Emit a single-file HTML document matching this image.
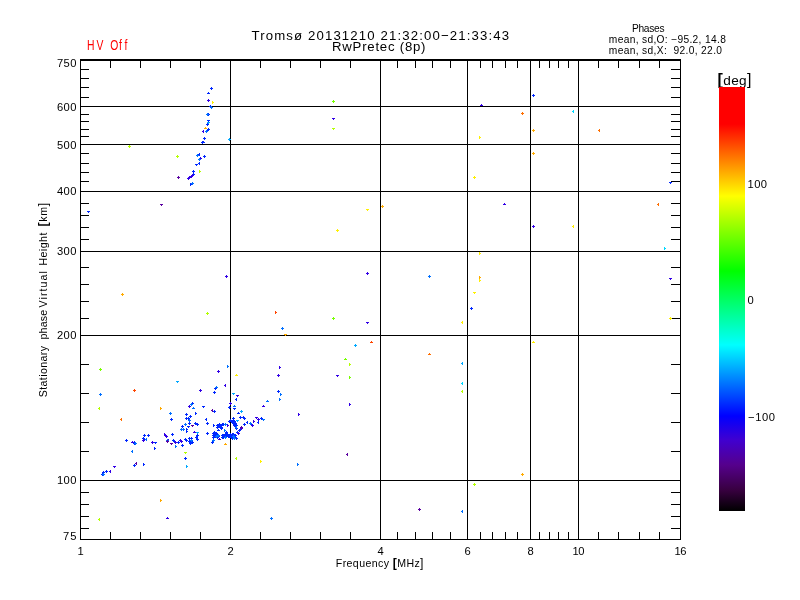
<!DOCTYPE html>
<html lang="en"><head><meta charset="utf-8"><title>Tromsø 20131210 21:32:00-21:33:43 RwPretec (8p)</title>
<style>html,body{margin:0;padding:0;background:#fff;}body{width:800px;height:600px;overflow:hidden;}svg{display:block;will-change:transform;filter:opacity(1);}text{font-family:"Liberation Sans",sans-serif;fill:#000;}.ln{fill:#000;shape-rendering:crispEdges;}</style>
</head><body>
<svg width="800" height="600" viewBox="0 0 800 600">
<rect x="0" y="0" width="800" height="600" fill="#fff"/>
<defs><linearGradient id="cb" x1="0" y1="0" x2="0" y2="1">
<stop offset="0.0000" stop-color="#ff0000"/>
<stop offset="0.0873" stop-color="#ff0000"/>
<stop offset="0.1722" stop-color="#ff8000"/>
<stop offset="0.2571" stop-color="#ffff00"/>
<stop offset="0.3443" stop-color="#80ff00"/>
<stop offset="0.4340" stop-color="#00ff00"/>
<stop offset="0.5212" stop-color="#00ff80"/>
<stop offset="0.6085" stop-color="#00ffff"/>
<stop offset="0.6910" stop-color="#0080ff"/>
<stop offset="0.7759" stop-color="#0000ff"/>
<stop offset="0.8325" stop-color="#4000d0"/>
<stop offset="0.8915" stop-color="#55008c"/>
<stop offset="0.9505" stop-color="#380040"/>
<stop offset="1.0000" stop-color="#000000"/>
</linearGradient></defs>
<g class="ln">
<rect x="80" y="59" width="1" height="481"/>
<rect x="230" y="59" width="1" height="481"/>
<rect x="380" y="59" width="1" height="481"/>
<rect x="467" y="59" width="1" height="481"/>
<rect x="530" y="59" width="1" height="481"/>
<rect x="578" y="59" width="1" height="481"/>
<rect x="680" y="59" width="1" height="481"/>
<rect x="80" y="59" width="601" height="1"/>
<rect x="80" y="106" width="601" height="1"/>
<rect x="80" y="144" width="601" height="1"/>
<rect x="80" y="191" width="601" height="1"/>
<rect x="80" y="251" width="601" height="1"/>
<rect x="80" y="335" width="601" height="1"/>
<rect x="80" y="480" width="601" height="1"/>
<rect x="80" y="539" width="601" height="1"/>
<rect x="80" y="59" width="601" height="2"/>
<rect x="110" y="59" width="1" height="9"/>
<rect x="110" y="532" width="1" height="8"/>
<rect x="140" y="59" width="1" height="9"/>
<rect x="140" y="532" width="1" height="8"/>
<rect x="170" y="59" width="1" height="9"/>
<rect x="170" y="532" width="1" height="8"/>
<rect x="200" y="59" width="1" height="9"/>
<rect x="200" y="532" width="1" height="8"/>
<rect x="260" y="59" width="1" height="9"/>
<rect x="260" y="532" width="1" height="8"/>
<rect x="290" y="59" width="1" height="9"/>
<rect x="290" y="532" width="1" height="8"/>
<rect x="320" y="59" width="1" height="9"/>
<rect x="320" y="532" width="1" height="8"/>
<rect x="350" y="59" width="1" height="9"/>
<rect x="350" y="532" width="1" height="8"/>
<rect x="397" y="59" width="1" height="9"/>
<rect x="397" y="532" width="1" height="8"/>
<rect x="415" y="59" width="1" height="9"/>
<rect x="415" y="532" width="1" height="8"/>
<rect x="432" y="59" width="1" height="9"/>
<rect x="432" y="532" width="1" height="8"/>
<rect x="450" y="59" width="1" height="9"/>
<rect x="450" y="532" width="1" height="8"/>
<rect x="480" y="59" width="1" height="9"/>
<rect x="480" y="532" width="1" height="8"/>
<rect x="492" y="59" width="1" height="9"/>
<rect x="492" y="532" width="1" height="8"/>
<rect x="505" y="59" width="1" height="9"/>
<rect x="505" y="532" width="1" height="8"/>
<rect x="517" y="59" width="1" height="9"/>
<rect x="517" y="532" width="1" height="8"/>
<rect x="539" y="59" width="1" height="9"/>
<rect x="539" y="532" width="1" height="8"/>
<rect x="549" y="59" width="1" height="9"/>
<rect x="549" y="532" width="1" height="8"/>
<rect x="558" y="59" width="1" height="9"/>
<rect x="558" y="532" width="1" height="8"/>
<rect x="568" y="59" width="1" height="9"/>
<rect x="568" y="532" width="1" height="8"/>
<rect x="598" y="59" width="1" height="9"/>
<rect x="598" y="532" width="1" height="8"/>
<rect x="618" y="59" width="1" height="9"/>
<rect x="618" y="532" width="1" height="8"/>
<rect x="639" y="59" width="1" height="9"/>
<rect x="639" y="532" width="1" height="8"/>
<rect x="659" y="59" width="1" height="9"/>
<rect x="659" y="532" width="1" height="8"/>
<rect x="80" y="69" width="9" height="1"/>
<rect x="671" y="69" width="10" height="1"/>
<rect x="80" y="78" width="9" height="1"/>
<rect x="671" y="78" width="10" height="1"/>
<rect x="80" y="87" width="9" height="1"/>
<rect x="671" y="87" width="10" height="1"/>
<rect x="80" y="97" width="9" height="1"/>
<rect x="671" y="97" width="10" height="1"/>
<rect x="80" y="114" width="9" height="1"/>
<rect x="671" y="114" width="10" height="1"/>
<rect x="80" y="121" width="9" height="1"/>
<rect x="671" y="121" width="10" height="1"/>
<rect x="80" y="129" width="9" height="1"/>
<rect x="671" y="129" width="10" height="1"/>
<rect x="80" y="136" width="9" height="1"/>
<rect x="671" y="136" width="10" height="1"/>
<rect x="80" y="153" width="9" height="1"/>
<rect x="671" y="153" width="10" height="1"/>
<rect x="80" y="163" width="9" height="1"/>
<rect x="671" y="163" width="10" height="1"/>
<rect x="80" y="172" width="9" height="1"/>
<rect x="671" y="172" width="10" height="1"/>
<rect x="80" y="181" width="9" height="1"/>
<rect x="671" y="181" width="10" height="1"/>
<rect x="80" y="203" width="9" height="1"/>
<rect x="671" y="203" width="10" height="1"/>
<rect x="80" y="215" width="9" height="1"/>
<rect x="671" y="215" width="10" height="1"/>
<rect x="80" y="227" width="9" height="1"/>
<rect x="671" y="227" width="10" height="1"/>
<rect x="80" y="239" width="9" height="1"/>
<rect x="671" y="239" width="10" height="1"/>
<rect x="80" y="267" width="9" height="1"/>
<rect x="671" y="267" width="10" height="1"/>
<rect x="80" y="284" width="9" height="1"/>
<rect x="671" y="284" width="10" height="1"/>
<rect x="80" y="301" width="9" height="1"/>
<rect x="671" y="301" width="10" height="1"/>
<rect x="80" y="318" width="9" height="1"/>
<rect x="671" y="318" width="10" height="1"/>
<rect x="80" y="364" width="9" height="1"/>
<rect x="671" y="364" width="10" height="1"/>
<rect x="80" y="393" width="9" height="1"/>
<rect x="671" y="393" width="10" height="1"/>
<rect x="80" y="422" width="9" height="1"/>
<rect x="671" y="422" width="10" height="1"/>
<rect x="80" y="451" width="9" height="1"/>
<rect x="671" y="451" width="10" height="1"/>
<rect x="80" y="492" width="9" height="1"/>
<rect x="671" y="492" width="10" height="1"/>
<rect x="80" y="504" width="9" height="1"/>
<rect x="671" y="504" width="10" height="1"/>
<rect x="80" y="516" width="9" height="1"/>
<rect x="671" y="516" width="10" height="1"/>
<rect x="80" y="528" width="9" height="1"/>
<rect x="671" y="528" width="10" height="1"/>
</g>
<g shape-rendering="crispEdges">
<path fill="#0028ff" d="M210 88h3v1h-3zM211 87h1v3h-1zM207 93h3v1h-3zM208 92h1v1h-1zM209 106h3v1h-3zM210 105h1v3h-1zM207 114h3v1h-3zM208 113h1v3h-1zM207 120h3v1h-3zM208 121h1v1h-1zM206 124h3v1h-3zM207 123h1v3h-1zM207 129h3v1h-3zM208 128h1v3h-1zM206 130h3v1h-3zM207 129h1v3h-1zM203 138h3v1h-3zM204 137h1v3h-1zM201 142h3v1h-3zM202 141h1v3h-1zM202 142h3v1h-3zM203 141h1v1h-1zM199 153h1v3h-1zM198 154h1v1h-1zM203 156h3v1h-3zM204 155h1v3h-1zM199 162h1v3h-1zM198 163h1v1h-1zM195 164h3v1h-3zM196 165h1v1h-1zM192 171h3v1h-3zM193 170h1v3h-1zM192 174h3v1h-3zM193 173h1v3h-1zM190 183h1v3h-1zM191 184h1v1h-1zM532 95h3v1h-3zM533 94h1v3h-1zM87 211h3v1h-3zM88 212h1v1h-1zM669 182h3v1h-3zM670 183h1v1h-1zM170 419h3v1h-3zM171 418h1v3h-1zM277 391h3v1h-3zM278 390h1v3h-1zM470 308h3v1h-3zM471 307h1v3h-1zM184 458h3v1h-3zM185 457h1v3h-1zM214 388h3v1h-3zM215 387h1v3h-1zM213 392h3v1h-3zM214 391h1v3h-1zM236 398h1v3h-1zM235 399h1v1h-1zM191 403h3v1h-3zM192 402h1v3h-1zM202 406h3v1h-3zM203 407h1v1h-1zM228 407h3v1h-3zM229 406h1v3h-1zM233 408h3v1h-3zM234 409h1v1h-1zM213 411h3v1h-3zM214 410h1v3h-1zM237 413h3v1h-3zM238 412h1v1h-1zM195 412h1v3h-1zM196 413h1v1h-1zM185 414h3v1h-3zM186 413h1v3h-1zM189 416h3v1h-3zM190 415h1v3h-1zM185 418h3v1h-3zM186 417h1v3h-1zM187 418h3v1h-3zM188 417h1v3h-1zM188 423h3v1h-3zM189 422h1v3h-1zM187 426h3v1h-3zM188 427h1v1h-1zM194 423h3v1h-3zM195 422h1v3h-1zM196 424h3v1h-3zM197 423h1v3h-1zM181 426h3v1h-3zM182 425h1v3h-1zM186 428h1v3h-1zM187 429h1v1h-1zM186 430h1v3h-1zM187 431h1v1h-1zM196 435h3v1h-3zM197 434h1v3h-1zM196 439h3v1h-3zM197 438h1v3h-1zM195 437h3v1h-3zM196 436h1v3h-1zM171 434h3v1h-3zM172 433h1v3h-1zM172 440h3v1h-3zM173 439h1v3h-1zM173 441h3v1h-3zM174 440h1v3h-1zM177 442h3v1h-3zM178 441h1v3h-1zM181 445h3v1h-3zM182 444h1v3h-1zM184 439h3v1h-3zM185 438h1v3h-1zM185 440h3v1h-3zM186 439h1v3h-1zM188 438h3v1h-3zM189 437h1v3h-1zM190 438h3v1h-3zM191 437h1v3h-1zM191 442h3v1h-3zM192 441h1v3h-1zM189 443h3v1h-3zM190 442h1v3h-1zM188 441h3v1h-3zM189 440h1v3h-1zM143 435h3v1h-3zM144 434h1v3h-1zM147 435h3v1h-3zM148 434h1v3h-1zM125 440h3v1h-3zM126 439h1v3h-1zM142 438h3v1h-3zM143 437h1v3h-1zM143 439h3v1h-3zM144 438h1v3h-1zM133 442h3v1h-3zM134 441h1v3h-1zM133 443h3v1h-3zM134 442h1v3h-1zM154 442h3v1h-3zM155 443h1v1h-1zM154 447h1v3h-1zM155 448h1v1h-1zM133 465h3v1h-3zM134 464h1v3h-1zM143 463h1v3h-1zM144 464h1v1h-1zM105 471h3v1h-3zM106 470h1v3h-1zM102 472h3v1h-3zM103 471h1v3h-1zM101 474h3v1h-3zM102 473h1v3h-1zM206 418h1v3h-1zM205 419h1v1h-1zM206 423h3v1h-3zM207 422h1v3h-1zM213 424h1v3h-1zM214 425h1v1h-1zM206 433h3v1h-3zM207 432h1v3h-1zM211 442h3v1h-3zM212 441h1v3h-1zM217 425h3v1h-3zM218 424h1v3h-1zM219 425h3v1h-3zM220 424h1v3h-1zM220 425h3v1h-3zM221 424h1v3h-1zM220 427h3v1h-3zM221 426h1v3h-1zM222 424h3v1h-3zM223 423h1v3h-1zM216 427h3v1h-3zM217 426h1v3h-1zM217 430h3v1h-3zM218 429h1v1h-1zM213 432h3v1h-3zM214 431h1v3h-1zM225 432h3v1h-3zM226 431h1v3h-1zM212 435h3v1h-3zM213 434h1v3h-1zM214 434h3v1h-3zM215 433h1v3h-1zM216 434h3v1h-3zM217 433h1v3h-1zM214 436h3v1h-3zM215 435h1v3h-1zM212 437h3v1h-3zM213 436h1v3h-1zM222 435h3v1h-3zM223 434h1v3h-1zM224 434h3v1h-3zM225 433h1v3h-1zM225 435h3v1h-3zM226 434h1v3h-1zM222 437h3v1h-3zM223 436h1v3h-1zM239 417h3v1h-3zM240 416h1v3h-1zM242 417h3v1h-3zM243 416h1v3h-1zM243 418h3v1h-3zM244 419h1v1h-1zM260 418h3v1h-3zM261 417h1v3h-1zM258 421h1v3h-1zM257 422h1v1h-1zM247 421h1v3h-1zM246 422h1v1h-1zM243 424h3v1h-3zM244 423h1v3h-1zM250 424h3v1h-3zM251 423h1v3h-1zM229 420h3v1h-3zM230 419h1v3h-1zM232 420h3v1h-3zM233 419h1v3h-1zM231 422h3v1h-3zM232 421h1v3h-1zM230 421h3v1h-3zM231 420h1v3h-1zM233 423h3v1h-3zM234 422h1v3h-1zM234 425h3v1h-3zM235 424h1v3h-1zM239 429h3v1h-3zM240 428h1v3h-1zM238 430h3v1h-3zM239 429h1v3h-1zM236 432h3v1h-3zM237 431h1v3h-1zM225 433h3v1h-3zM226 432h1v3h-1zM224 434h3v1h-3zM225 433h1v3h-1zM226 435h3v1h-3zM227 434h1v3h-1zM230 435h3v1h-3zM231 434h1v3h-1zM229 436h3v1h-3zM230 435h1v3h-1zM231 434h3v1h-3zM232 433h1v3h-1zM233 436h3v1h-3zM234 435h1v3h-1zM234 437h3v1h-3zM235 436h1v3h-1zM228 436h3v1h-3zM229 435h1v3h-1zM216 425h3v1h-3zM217 424h1v3h-1zM218 426h3v1h-3zM219 425h1v3h-1zM221 424h3v1h-3zM222 423h1v3h-1zM220 428h3v1h-3zM221 427h1v3h-1zM219 427h3v1h-3zM220 426h1v3h-1zM218 424h3v1h-3zM219 423h1v3h-1zM212 433h3v1h-3zM213 432h1v3h-1zM213 436h3v1h-3zM214 435h1v3h-1zM216 437h3v1h-3zM217 436h1v3h-1zM217 436h3v1h-3zM218 435h1v3h-1zM215 433h3v1h-3zM216 432h1v3h-1zM221 435h3v1h-3zM222 434h1v3h-1zM223 436h3v1h-3zM224 435h1v3h-1zM226 434h3v1h-3zM227 433h1v3h-1zM227 436h3v1h-3zM228 435h1v3h-1zM221 437h3v1h-3zM222 436h1v3h-1zM230 437h3v1h-3zM231 436h1v3h-1zM231 438h3v1h-3zM232 437h1v3h-1zM235 438h3v1h-3zM236 437h1v3h-1zM232 434h3v1h-3zM233 433h1v3h-1zM234 435h3v1h-3zM235 434h1v3h-1zM229 434h3v1h-3zM230 433h1v3h-1zM228 421h3v1h-3zM229 420h1v3h-1zM232 418h3v1h-3zM233 417h1v3h-1zM233 421h3v1h-3zM234 420h1v3h-1zM232 423h3v1h-3zM233 422h1v3h-1zM234 423h3v1h-3zM235 422h1v3h-1zM235 425h3v1h-3zM236 424h1v3h-1zM233 425h3v1h-3zM234 424h1v3h-1zM235 428h3v1h-3zM236 427h1v3h-1z"/>
<path fill="#3200e6" d="M207 100h3v1h-3zM208 99h1v3h-1zM203 130h1v3h-1zM202 131h1v1h-1zM199 158h3v1h-3zM200 157h1v3h-1zM191 175h3v1h-3zM192 174h1v3h-1zM190 176h3v1h-3zM191 175h1v3h-1zM188 177h3v1h-3zM189 176h1v3h-1zM187 178h3v1h-3zM188 177h1v3h-1zM332 118h3v1h-3zM333 119h1v1h-1zM480 105h3v1h-3zM481 104h1v1h-1zM225 276h3v1h-3zM226 275h1v3h-1zM366 273h3v1h-3zM367 272h1v3h-1zM503 204h3v1h-3zM504 203h1v1h-1zM532 226h3v1h-3zM533 225h1v3h-1zM669 278h3v1h-3zM670 279h1v1h-1zM366 322h3v1h-3zM367 323h1v1h-1zM336 375h3v1h-3zM337 376h1v1h-1zM279 366h1v3h-1zM280 367h1v1h-1zM277 375h3v1h-3zM278 374h1v3h-1zM262 406h3v1h-3zM263 405h1v1h-1zM298 413h1v3h-1zM299 414h1v1h-1zM349 403h1v3h-1zM350 404h1v1h-1zM166 518h3v1h-3zM167 517h1v1h-1zM217 371h3v1h-3zM218 370h1v3h-1zM225 384h1v3h-1zM224 385h1v1h-1zM199 390h3v1h-3zM200 389h1v3h-1zM236 395h3v1h-3zM237 396h1v1h-1zM229 403h3v1h-3zM230 402h1v3h-1zM188 406h3v1h-3zM189 405h1v3h-1zM193 432h3v1h-3zM194 431h1v1h-1zM164 433h1v3h-1zM165 434h1v1h-1zM164 435h3v1h-3zM165 434h1v3h-1zM165 436h3v1h-3zM166 437h1v1h-1zM168 439h1v3h-1zM167 440h1v1h-1zM174 442h3v1h-3zM175 441h1v3h-1zM179 440h3v1h-3zM180 439h1v3h-1zM180 441h3v1h-3zM181 440h1v3h-1zM142 440h3v1h-3zM143 439h1v3h-1zM131 442h3v1h-3zM132 441h1v1h-1zM151 442h3v1h-3zM152 441h1v3h-1zM113 466h3v1h-3zM114 467h1v1h-1zM110 470h1v3h-1zM109 471h1v1h-1zM227 424h1v3h-1zM228 425h1v1h-1zM218 439h3v1h-3zM219 438h1v1h-1zM255 417h3v1h-3zM256 418h1v1h-1zM257 419h3v1h-3zM258 418h1v3h-1zM253 420h1v3h-1zM254 421h1v1h-1zM251 425h3v1h-3zM252 424h1v3h-1zM227 424h1v3h-1zM228 425h1v1h-1zM237 433h3v1h-3zM238 432h1v3h-1zM240 428h3v1h-3zM241 427h1v3h-1z"/>
<path fill="#fff000" d="M212 101h1v3h-1zM213 102h1v1h-1zM479 136h1v3h-1zM480 137h1v1h-1zM473 177h3v1h-3zM474 176h1v3h-1zM366 209h3v1h-3zM367 210h1v1h-1zM336 230h3v1h-3zM337 229h1v3h-1zM479 252h1v3h-1zM480 253h1v1h-1zM479 279h1v3h-1zM480 280h1v1h-1zM473 292h3v1h-3zM474 293h1v1h-1zM573 225h1v3h-1zM572 226h1v1h-1zM462 321h1v3h-1zM461 322h1v1h-1zM532 342h3v1h-3zM533 341h1v1h-1zM669 318h3v1h-3zM670 317h1v3h-1zM260 460h1v3h-1zM261 461h1v1h-1zM235 375h3v1h-3zM236 374h1v1h-1z"/>
<path fill="#0070ff" d="M210 107h3v1h-3zM211 106h1v3h-1zM206 114h3v1h-3zM207 113h1v3h-1zM205 131h3v1h-3zM206 130h1v3h-1zM196 155h3v1h-3zM197 154h1v3h-1zM198 159h3v1h-3zM199 158h1v3h-1zM191 183h3v1h-3zM192 182h1v3h-1zM428 276h3v1h-3zM429 275h1v3h-1zM99 394h3v1h-3zM100 393h1v3h-1zM169 413h3v1h-3zM170 412h1v3h-1zM281 328h3v1h-3zM282 327h1v3h-1zM280 393h1v3h-1zM281 394h1v1h-1zM279 398h1v3h-1zM280 399h1v1h-1zM266 401h3v1h-3zM267 400h1v1h-1zM297 463h1v3h-1zM298 464h1v1h-1zM270 518h3v1h-3zM271 517h1v3h-1zM462 510h1v3h-1zM461 511h1v1h-1zM227 365h1v3h-1zM228 366h1v1h-1zM215 387h3v1h-3zM216 386h1v1h-1zM190 404h3v1h-3zM191 403h1v3h-1zM233 406h3v1h-3zM234 405h1v1h-1zM192 408h3v1h-3zM193 407h1v1h-1zM188 420h3v1h-3zM189 419h1v3h-1zM184 424h3v1h-3zM185 423h1v3h-1zM180 429h3v1h-3zM181 428h1v3h-1zM182 429h3v1h-3zM183 428h1v3h-1zM166 440h3v1h-3zM167 439h1v3h-1zM175 445h1v3h-1zM176 446h1v1h-1zM190 440h3v1h-3zM191 439h1v3h-1zM146 438h1v3h-1zM145 439h1v1h-1zM134 443h3v1h-3zM135 442h1v3h-1zM132 450h1v3h-1zM131 451h1v1h-1zM102 474h3v1h-3zM103 473h1v3h-1zM212 440h3v1h-3zM213 439h1v3h-1zM224 424h3v1h-3zM225 423h1v3h-1zM224 429h1v3h-1zM225 430h1v1h-1zM217 435h3v1h-3zM218 434h1v3h-1zM262 419h3v1h-3zM263 420h1v1h-1zM249 423h3v1h-3zM250 422h1v3h-1zM236 426h1v3h-1zM235 427h1v1h-1zM233 438h3v1h-3zM234 437h1v3h-1zM232 436h3v1h-3zM233 435h1v3h-1zM215 436h3v1h-3zM216 435h1v3h-1zM224 437h3v1h-3zM225 436h1v3h-1z"/>
<path fill="#00a8ff" d="M207 122h3v1h-3zM208 123h1v1h-1zM228 139h3v1h-3zM229 138h1v3h-1zM176 381h3v1h-3zM177 382h1v1h-1zM354 345h3v1h-3zM355 344h1v3h-1zM462 362h1v3h-1zM461 363h1v1h-1zM186 465h1v3h-1zM187 466h1v1h-1zM232 393h3v1h-3zM233 394h1v1h-1zM240 411h3v1h-3zM241 410h1v3h-1zM196 432h3v1h-3zM197 433h1v1h-1zM236 420h3v1h-3zM237 421h1v1h-1z"/>
<path fill="#ffaa00" d="M204 128h3v1h-3zM205 127h1v1h-1zM532 130h3v1h-3zM533 129h1v3h-1zM532 153h3v1h-3zM533 152h1v3h-1zM121 294h3v1h-3zM122 293h1v3h-1zM381 206h3v1h-3zM382 205h1v3h-1zM479 276h1v3h-1zM480 277h1v1h-1zM160 407h1v3h-1zM161 408h1v1h-1zM284 334h3v1h-3zM285 335h1v1h-1zM521 474h3v1h-3zM522 473h1v3h-1zM160 499h1v3h-1zM161 500h1v1h-1zM224 444h3v1h-3zM225 443h1v1h-1z"/>
<path fill="#b4ff00" d="M128 146h3v1h-3zM129 145h1v3h-1zM176 156h3v1h-3zM177 155h1v3h-1zM199 170h1v3h-1zM200 171h1v1h-1zM332 128h3v1h-3zM333 129h1v1h-1zM206 313h3v1h-3zM207 312h1v3h-1zM99 407h1v3h-1zM98 408h1v1h-1zM349 363h1v3h-1zM350 364h1v1h-1zM462 390h1v3h-1zM461 391h1v1h-1zM473 484h3v1h-3zM474 483h1v3h-1zM99 518h1v3h-1zM98 519h1v1h-1zM236 457h1v3h-1zM235 458h1v1h-1zM184 452h3v1h-3zM185 453h1v1h-1z"/>
<path fill="#5a00a0" d="M177 177h3v1h-3zM178 176h1v3h-1zM160 204h3v1h-3zM161 205h1v1h-1zM347 453h1v3h-1zM346 454h1v1h-1zM418 509h3v1h-3zM419 508h1v3h-1zM212 409h1v3h-1zM211 410h1v1h-1zM191 425h3v1h-3zM192 426h1v1h-1zM166 441h3v1h-3zM167 440h1v3h-1zM170 443h3v1h-3zM171 444h1v1h-1zM136 462h1v3h-1zM135 463h1v1h-1zM240 427h3v1h-3zM241 426h1v3h-1z"/>
<path fill="#78ff00" d="M332 101h3v1h-3zM333 100h1v3h-1zM99 369h3v1h-3zM100 368h1v3h-1zM332 318h3v1h-3zM333 317h1v3h-1zM344 359h3v1h-3zM345 358h1v1h-1zM349 376h1v3h-1zM350 377h1v1h-1z"/>
<path fill="#ff6e00" d="M521 113h3v1h-3zM522 112h1v3h-1zM599 129h1v3h-1zM598 130h1v1h-1zM658 203h1v3h-1zM657 204h1v1h-1zM121 418h1v3h-1zM120 419h1v1h-1zM428 354h3v1h-3zM429 353h1v1h-1z"/>
<path fill="#00d8ff" d="M573 110h1v3h-1zM572 111h1v1h-1zM664 247h1v3h-1zM665 248h1v1h-1zM462 382h1v3h-1zM461 383h1v1h-1z"/>
<path fill="#ff4600" d="M133 390h3v1h-3zM134 389h1v3h-1zM275 311h1v3h-1zM276 312h1v1h-1zM370 342h3v1h-3zM371 341h1v1h-1z"/>
</g>
<text x="251.5" y="39.5" font-size="13.2" textLength="257.5" lengthAdjust="spacing" xml:space="preserve">Tromsø 20131210 21:32:00−21:33:43</text>
<text x="332" y="51" font-size="13.2" textLength="93.5" lengthAdjust="spacing" xml:space="preserve">RwPretec (8p)</text>
<text transform="translate(87,49.8) scale(0.72,1)" x="0.00 13.33 23.61 32.36 44.31 52.22" y="0" font-size="14.4" style="fill:#ff0000" xml:space="preserve">HV Off</text>
<text x="632" y="31.6" font-size="10.2" textLength="32.5" lengthAdjust="spacing" xml:space="preserve">Phases</text>
<text x="608.8" y="42.6" font-size="10.2" textLength="117" lengthAdjust="spacing" xml:space="preserve">mean, sd,O: −95.2, 14.8</text>
<text x="608.8" y="53.8" font-size="10.2" textLength="113.2" lengthAdjust="spacing" xml:space="preserve">mean, sd,X:  92.0, 22.0</text>
<text x="76.4" y="67" font-size="11.2" text-anchor="end" textLength="19.4" lengthAdjust="spacing" xml:space="preserve">750</text>
<text x="76.4" y="111" font-size="11.2" text-anchor="end" textLength="19.4" lengthAdjust="spacing" xml:space="preserve">600</text>
<text x="76.4" y="148.5" font-size="11.2" text-anchor="end" textLength="19.4" lengthAdjust="spacing" xml:space="preserve">500</text>
<text x="76.4" y="195" font-size="11.2" text-anchor="end" textLength="19.4" lengthAdjust="spacing" xml:space="preserve">400</text>
<text x="76.4" y="255" font-size="11.2" text-anchor="end" textLength="19.4" lengthAdjust="spacing" xml:space="preserve">300</text>
<text x="76.4" y="339" font-size="11.2" text-anchor="end" textLength="19.4" lengthAdjust="spacing" xml:space="preserve">200</text>
<text x="76.4" y="484" font-size="11.2" text-anchor="end" textLength="19.4" lengthAdjust="spacing" xml:space="preserve">100</text>
<text x="76.4" y="540" font-size="11.2" text-anchor="end" textLength="13.4" lengthAdjust="spacing" xml:space="preserve">75</text>
<text x="80.5" y="555" font-size="11.2" text-anchor="middle" xml:space="preserve">1</text>
<text x="230.5" y="555" font-size="11.2" text-anchor="middle" xml:space="preserve">2</text>
<text x="380.5" y="555" font-size="11.2" text-anchor="middle" xml:space="preserve">4</text>
<text x="467.5" y="555" font-size="11.2" text-anchor="middle" xml:space="preserve">6</text>
<text x="530.5" y="555" font-size="11.2" text-anchor="middle" xml:space="preserve">8</text>
<text x="578.5" y="555" font-size="11.2" text-anchor="middle" textLength="12.2" lengthAdjust="spacing" xml:space="preserve">10</text>
<text x="680.5" y="555" font-size="11.2" text-anchor="middle" textLength="12.2" lengthAdjust="spacing" xml:space="preserve">16</text>
<text x="335.8" y="566.8" font-size="10.6" textLength="87.7" lengthAdjust="spacing" xml:space="preserve">Frequency <tspan font-weight="bold" font-size="12.2">[</tspan>MHz<tspan font-size="12.2">]</tspan></text>
<g transform="translate(47,397.25) rotate(-90)">
<text x="0" y="0" font-size="10.6" textLength="51.3" lengthAdjust="spacing">Stationary</text>
<text x="57.75" y="0" font-size="10.6" textLength="29.7" lengthAdjust="spacing">phase</text>
<text x="89.85" y="0" font-size="10.6" textLength="36.3" lengthAdjust="spacing">Virtual</text>
<text x="131.65" y="0" font-size="10.6" textLength="33.0" lengthAdjust="spacing">Height</text>
<text x="170.75" y="0" font-size="10.6" textLength="23.6" lengthAdjust="spacing"><tspan font-weight="bold" font-size="12.2">[</tspan>km<tspan font-size="12.2">]</tspan></text>
</g>
<text x="717.6" y="84.6" font-size="13.6" textLength="33.8" lengthAdjust="spacing" xml:space="preserve"><tspan font-weight="bold" font-size="16">[</tspan>deg<tspan font-size="16">]</tspan></text>
<rect x="719" y="87" width="26" height="424" fill="url(#cb)" shape-rendering="crispEdges"/>
<text x="747.5" y="188.2" font-size="11.2" textLength="19.5" lengthAdjust="spacing" xml:space="preserve">100</text>
<text x="747.5" y="304.2" font-size="11.2" xml:space="preserve">0</text>
<text x="748" y="420.5" font-size="11.2" textLength="27" lengthAdjust="spacing" xml:space="preserve">−100</text>
</svg>
</body></html>
